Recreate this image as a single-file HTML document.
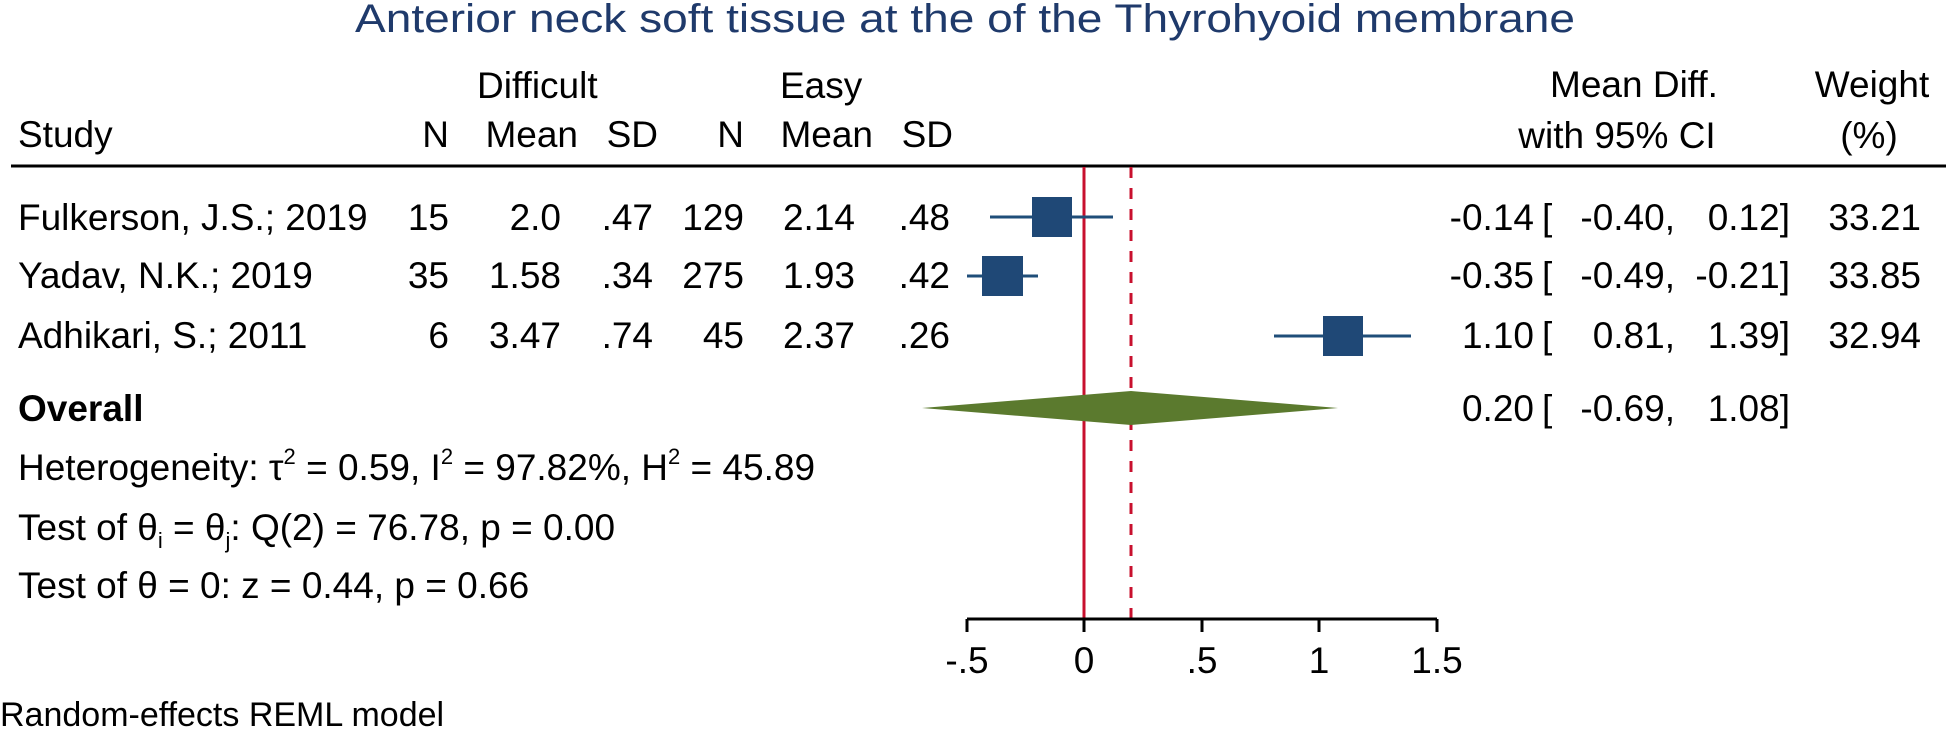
<!DOCTYPE html>
<html><head><meta charset="utf-8"><style>
html,body{margin:0;padding:0;background:#fff;}
svg{display:block;font-family:"Liberation Sans",Arial,sans-serif;}
</style></head><body>
<svg width="1946" height="732" viewBox="0 0 1946 732" xmlns="http://www.w3.org/2000/svg">
<rect width="1946" height="732" fill="#fff"/>
<text x="965" y="32" font-size="40" fill="#1f3a6b" text-anchor="middle" textLength="1220" lengthAdjust="spacingAndGlyphs">Anterior neck soft tissue at the of the Thyrohyoid membrane</text>
<g font-size="37" fill="#000">
<text x="477" y="98">Difficult</text>
<text x="780" y="98">Easy</text>
<text x="18" y="147">Study</text>
<text x="449" y="147" text-anchor="end">N</text>
<text x="578" y="147" text-anchor="end">Mean</text>
<text x="658" y="147" text-anchor="end">SD</text>
<text x="744" y="147" text-anchor="end">N</text>
<text x="873" y="147" text-anchor="end">Mean</text>
<text x="953" y="147" text-anchor="end">SD</text>
<text x="1634" y="97" text-anchor="middle">Mean Diff.</text>
<text x="1617" y="148" text-anchor="middle">with 95% CI</text>
<text x="1872" y="97" text-anchor="middle">Weight</text>
<text x="1869" y="148" text-anchor="middle">(%)</text>
</g>
<line x1="11" y1="166" x2="1946" y2="166" stroke="#000" stroke-width="3"/>
<g font-size="37" fill="#000">
<text x="18" y="230">Fulkerson, J.S.; 2019</text>
<text x="449" y="230" text-anchor="end">15</text><text x="561" y="230" text-anchor="end">2.0</text><text x="653" y="230" text-anchor="end">.47</text>
<text x="744" y="230" text-anchor="end">129</text><text x="855" y="230" text-anchor="end">2.14</text><text x="950" y="230" text-anchor="end">.48</text>
<text x="18" y="288">Yadav, N.K.; 2019</text>
<text x="449" y="288" text-anchor="end">35</text><text x="561" y="288" text-anchor="end">1.58</text><text x="653" y="288" text-anchor="end">.34</text>
<text x="744" y="288" text-anchor="end">275</text><text x="855" y="288" text-anchor="end">1.93</text><text x="950" y="288" text-anchor="end">.42</text>
<text x="18" y="348">Adhikari, S.; 2011</text>
<text x="449" y="348" text-anchor="end">6</text><text x="561" y="348" text-anchor="end">3.47</text><text x="653" y="348" text-anchor="end">.74</text>
<text x="744" y="348" text-anchor="end">45</text><text x="855" y="348" text-anchor="end">2.37</text><text x="950" y="348" text-anchor="end">.26</text>
<text x="18" y="421" font-weight="bold">Overall</text>
<text x="18" y="480">Heterogeneity: τ<tspan dy="-16" font-size="22">2</tspan><tspan dy="16"> = 0.59, I</tspan><tspan dy="-16" font-size="22">2</tspan><tspan dy="16"> = 97.82%, H</tspan><tspan dy="-16" font-size="22">2</tspan><tspan dy="16"> = 45.89</tspan></text>
<text x="18" y="540">Test of θ<tspan dy="8" font-size="22">i</tspan><tspan dy="-8"> = θ</tspan><tspan dy="8" font-size="22">j</tspan><tspan dy="-8">: Q(2) = 76.78, p = 0.00</tspan></text>
<text x="18" y="598">Test of θ = 0: z = 0.44, p = 0.66</text>
<text x="0" y="726" font-size="34">Random-effects REML model</text>
</g>
<g font-size="37" fill="#000">
<text x="1534" y="230" text-anchor="end">-0.14</text><text x="1542" y="230">[</text><text x="1675" y="230" text-anchor="end">-0.40,</text><text x="1790" y="230" text-anchor="end">0.12]</text><text x="1921" y="230" text-anchor="end">33.21</text>
<text x="1534" y="288" text-anchor="end">-0.35</text><text x="1542" y="288">[</text><text x="1675" y="288" text-anchor="end">-0.49,</text><text x="1790" y="288" text-anchor="end">-0.21]</text><text x="1921" y="288" text-anchor="end">33.85</text>
<text x="1534" y="348" text-anchor="end">1.10</text><text x="1542" y="348">[</text><text x="1675" y="348" text-anchor="end">0.81,</text><text x="1790" y="348" text-anchor="end">1.39]</text><text x="1921" y="348" text-anchor="end">32.94</text>
<text x="1534" y="421" text-anchor="end">0.20</text><text x="1542" y="421">[</text><text x="1675" y="421" text-anchor="end">-0.69,</text><text x="1790" y="421" text-anchor="end">1.08]</text>
</g>
<line x1="1084" y1="167" x2="1084" y2="619" stroke="#c8102e" stroke-width="3"/>
<line x1="1131" y1="167" x2="1131" y2="619" stroke="#c8102e" stroke-width="3" stroke-dasharray="11,10"/>
<g stroke="#1f4e79" stroke-width="3">
<line x1="990" y1="217" x2="1113" y2="217"/>
<line x1="967" y1="276" x2="1038" y2="276"/>
<line x1="1274" y1="336" x2="1411" y2="336"/>
</g>
<g fill="#1f4876">
<rect x="1032" y="197" width="40" height="40"/>
<rect x="982" y="256" width="41" height="40"/>
<rect x="1323" y="316" width="40" height="40"/>
</g>
<polygon points="922,408 1131,391 1338,408 1131,425" fill="#5b7a2e"/>
<line x1="967" y1="619" x2="1437" y2="619" stroke="#000" stroke-width="3"/>
<g stroke="#000" stroke-width="3">
<line x1="967" y1="619" x2="967" y2="632"/><line x1="1084" y1="619" x2="1084" y2="632"/><line x1="1202" y1="619" x2="1202" y2="632"/><line x1="1319" y1="619" x2="1319" y2="632"/><line x1="1437" y1="619" x2="1437" y2="632"/>
</g>
<g font-size="37" fill="#000" text-anchor="middle">
<text x="967" y="673">-.5</text><text x="1084" y="673">0</text><text x="1202" y="673">.5</text><text x="1319" y="673">1</text><text x="1437" y="673">1.5</text>
</g>
</svg>
</body></html>
